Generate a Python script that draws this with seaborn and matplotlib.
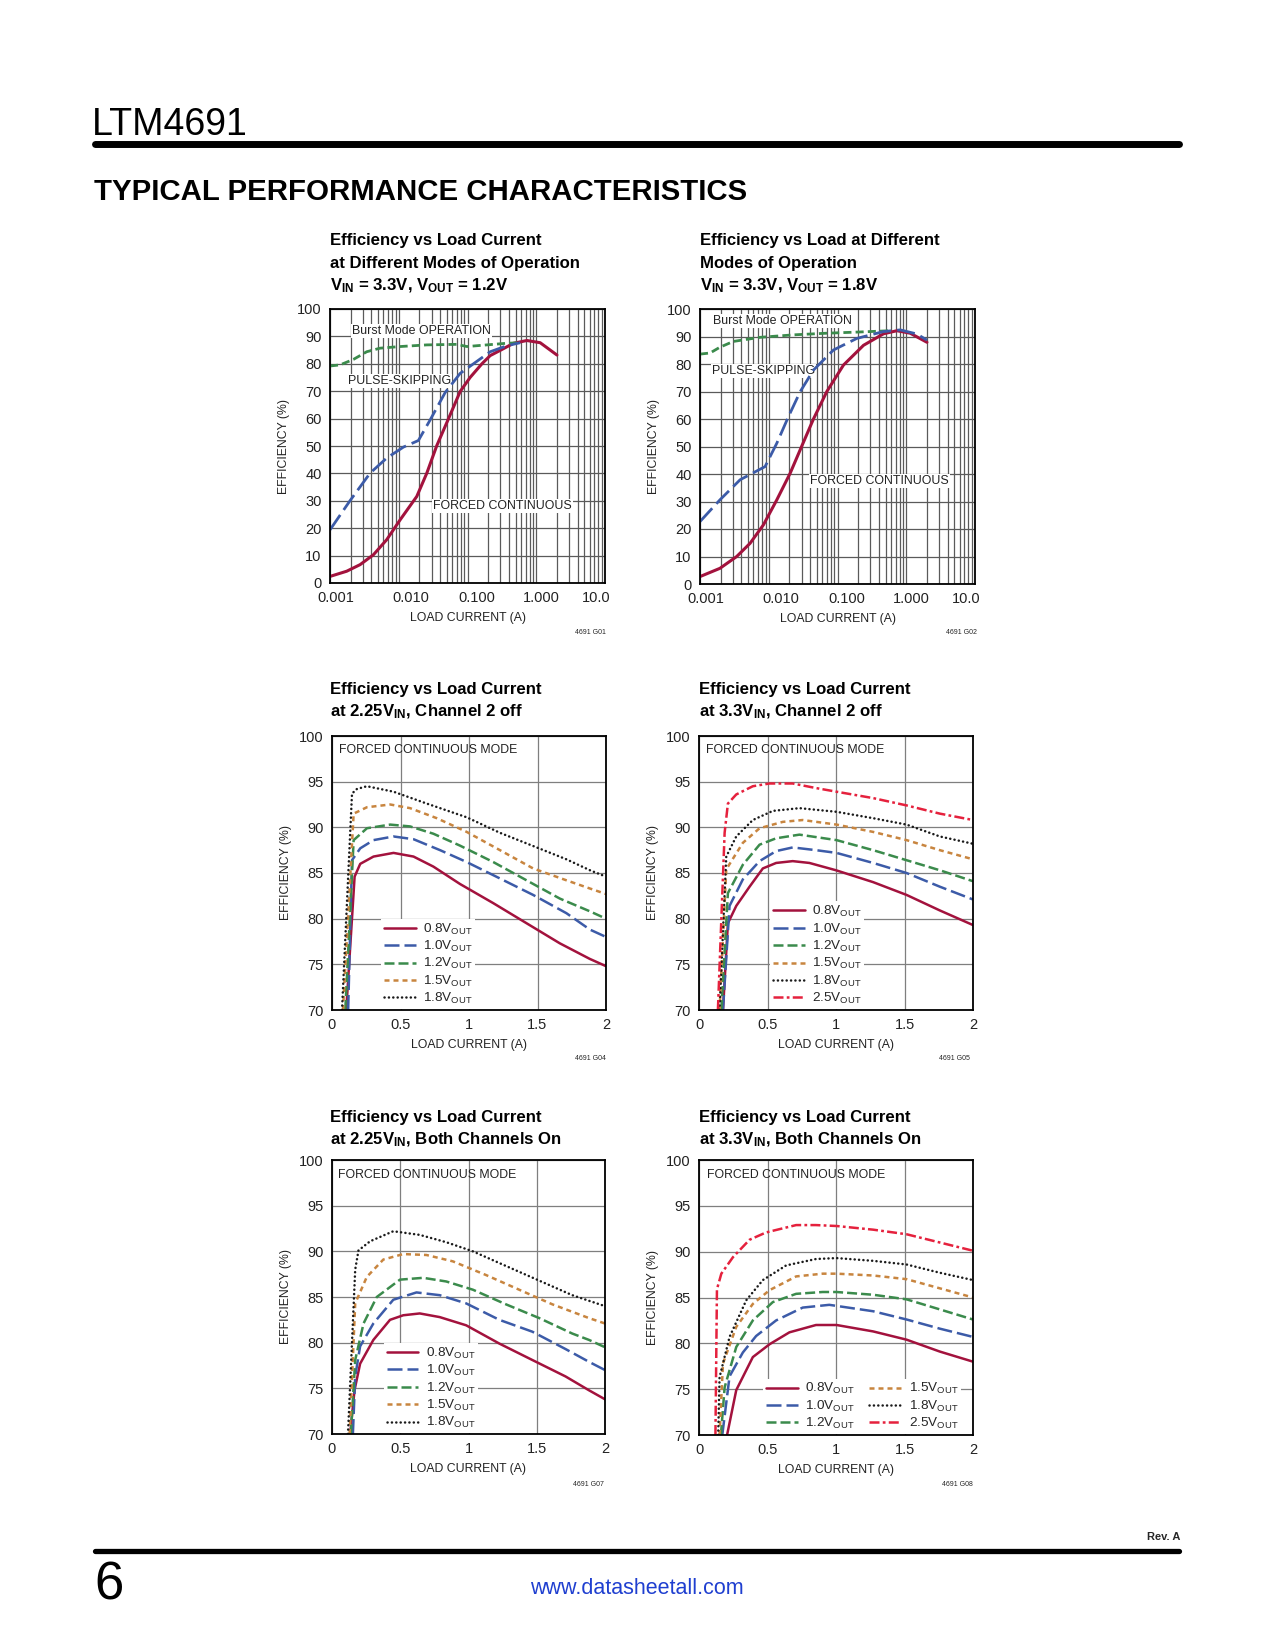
import matplotlib
matplotlib.use("Agg")
import matplotlib.pyplot as plt
import matplotlib.ticker as mticker
from matplotlib.lines import Line2D
from matplotlib.transforms import ScaledTranslation
import seaborn as sns

# G01: efficiency vs load, VIN = 3.3V, VOUT = 1.2V
g01_fc_load = [0.001, 0.00175, 0.00274, 0.00428, 0.00668, 0.0105, 0.0183, 0.0256, 0.0357,
               0.0528, 0.0782, 0.109, 0.162, 0.214, 0.299, 0.468, 0.731, 1.14, 2.0]
g01_fc_eff = [2.4, 4.3, 6.7, 10.3, 15.8, 23.1, 31.6, 40.1, 50.1,
              59.9, 69.9, 75.0, 80.0, 83.0, 84.9, 87.5, 88.5, 87.7, 83.2]
g01_ps_load = [0.001, 0.00195, 0.00383, 0.00668, 0.0117, 0.0193, 0.0286, 0.0473, 0.0782,
               0.122, 0.214, 0.374, 0.585]
g01_ps_eff = [19.4, 30.0, 40.1, 45.6, 49.6, 52.0, 59.5, 69.5, 76.5, 80.0, 84.4, 86.6, 87.7]
g01_bm_load = [0.001, 0.0014, 0.00219, 0.00342, 0.00534, 0.0105, 0.0256, 0.070, 0.098,
               0.191, 0.374, 0.585]
g01_bm_eff = [79.2, 79.6, 81.6, 84.4, 85.7, 86.3, 86.9, 87.1, 86.3, 86.9, 87.5, 87.7]

# G02: efficiency vs load, VIN = 3.3V, VOUT = 1.8V
g02_fc_load = [0.001, 0.00195, 0.00342, 0.00535, 0.00836, 0.0131, 0.0205, 0.0303, 0.0447,
               0.070, 0.122, 0.239, 0.468, 0.731, 1.14, 2.0]
g02_fc_eff = [2.7, 5.7, 10.0, 14.8, 21.5, 30.6, 40.3, 50.2, 60.0,
              70.0, 79.6, 86.8, 91.0, 92.1, 91.2, 87.9]
g02_ps_load = [0.001, 0.00195, 0.00383, 0.00885, 0.0131, 0.0193, 0.0286, 0.0447, 0.0874,
               0.191, 0.468, 0.82, 1.43, 2.0]
g02_ps_eff = [22.7, 30.6, 37.9, 42.7, 51.2, 60.8, 69.9, 77.8, 85.1, 89.3, 91.8, 92.4, 90.9, 88.7]
g02_bm_load = [0.001, 0.0014, 0.00195, 0.00305, 0.00748, 0.0229, 0.070, 0.191, 0.585]
g02_bm_eff = [83.6, 84.0, 86.1, 88.2, 89.7, 90.6, 91.2, 91.6, 92.1]

# G04: 2.25VIN, channel 2 off
g04_load = {
    "0.8": [0.104, 0.165, 0.206, 0.303, 0.449, 0.595, 0.740, 0.934, 1.177, 1.420, 1.663, 1.881, 2.0],
    "1.0": [0.118, 0.146, 0.206, 0.303, 0.449, 0.595, 0.789, 0.983, 1.226, 1.468, 1.711, 1.883, 2.0],
    "1.2": [0.097, 0.158, 0.255, 0.425, 0.570, 0.740, 0.934, 1.177, 1.420, 1.663, 1.883, 2.0],
    "1.5": [0.080, 0.158, 0.255, 0.425, 0.570, 0.765, 0.983, 1.226, 1.468, 1.711, 1.883, 2.0],
    "1.8": [0.073, 0.146, 0.182, 0.255, 0.449, 0.692, 0.983, 1.226, 1.494, 1.711, 1.883, 2.0],
}
g04_eff = {
    "0.8": [70, 84.6, 86.0, 86.8, 87.2, 86.8, 85.7, 83.8, 81.7, 79.5, 77.3, 75.6, 74.8],
    "1.0": [70, 86.4, 87.7, 88.6, 89.0, 88.7, 87.5, 86.2, 84.4, 82.6, 80.6, 78.8, 78.0],
    "1.2": [70, 88.6, 89.9, 90.3, 90.1, 89.3, 88.0, 86.2, 84.2, 82.2, 80.8, 80.0],
    "1.5": [70, 91.5, 92.2, 92.5, 92.1, 91.0, 89.5, 87.5, 85.5, 84.2, 83.3, 82.7],
    "1.8": [70, 93.7, 94.2, 94.5, 93.9, 92.6, 91.1, 89.4, 87.8, 86.5, 85.3, 84.6],
}

# G05: 3.3VIN, channel 2 off
g05_load = {
    "0.8": [0.175, 0.211, 0.272, 0.369, 0.466, 0.563, 0.684, 0.806, 1.0, 1.271, 1.515, 1.758, 2.0],
    "1.0": [0.175, 0.223, 0.320, 0.442, 0.563, 0.684, 0.854, 1.004, 1.271, 1.515, 1.758, 2.0],
    "1.2": [0.163, 0.211, 0.320, 0.442, 0.563, 0.733, 1.004, 1.271, 1.515, 1.758, 2.0],
    "1.5": [0.150, 0.199, 0.320, 0.442, 0.612, 0.757, 1.004, 1.271, 1.515, 1.758, 2.0],
    "1.8": [0.150, 0.199, 0.272, 0.393, 0.539, 0.733, 1.004, 1.271, 1.515, 1.758, 2.0],
    "2.5": [0.138, 0.187, 0.211, 0.272, 0.393, 0.515, 0.684, 0.854, 1.004, 1.271, 1.515, 1.758, 2.0],
}
g05_eff = {
    "0.8": [70, 79.5, 81.4, 83.5, 85.5, 86.1, 86.3, 86.1, 85.3, 84.0, 82.6, 80.9, 79.3],
    "1.0": [70, 81.4, 84.3, 86.3, 87.4, 87.8, 87.5, 87.2, 86.1, 85.0, 83.5, 82.1],
    "1.2": [70, 82.8, 85.9, 88.1, 88.8, 89.2, 88.6, 87.5, 86.4, 85.3, 84.1],
    "1.5": [70, 85.4, 88.3, 89.9, 90.6, 90.8, 90.3, 89.5, 88.6, 87.5, 86.5],
    "1.8": [70, 86.8, 89.0, 90.8, 91.8, 92.1, 91.7, 91.0, 90.3, 89.0, 88.2],
    "2.5": [70, 89.4, 92.6, 93.6, 94.5, 94.8, 94.8, 94.3, 93.9, 93.2, 92.4, 91.5, 90.8],
}

# G07: 2.25VIN, both channels on
g07_load = {
    "0.8": [0.133, 0.165, 0.206, 0.303, 0.425, 0.522, 0.643, 0.789, 0.983, 1.226, 1.468, 1.711, 1.881, 2.0],
    "1.0": [0.153, 0.170, 0.206, 0.303, 0.449, 0.619, 0.789, 0.983, 1.226, 1.468, 1.711, 1.883, 2.0],
    "1.2": [0.138, 0.170, 0.231, 0.328, 0.498, 0.668, 0.837, 1.032, 1.274, 1.517, 1.760, 1.883, 2.0],
    "1.5": [0.129, 0.170, 0.255, 0.376, 0.522, 0.692, 0.886, 1.129, 1.371, 1.614, 1.881, 2.0],
    "1.8": [0.117, 0.170, 0.194, 0.279, 0.449, 0.643, 0.837, 1.032, 1.274, 1.517, 1.760, 2.0],
}
g07_eff = {
    "0.8": [70, 74.8, 77.7, 80.3, 82.5, 83.0, 83.2, 82.8, 81.9, 79.9, 78.1, 76.3, 74.8, 73.8],
    "1.0": [70, 76.3, 79.6, 82.1, 84.7, 85.5, 85.2, 84.3, 82.5, 81.2, 79.3, 77.9, 77.0],
    "1.2": [70, 78.1, 82.1, 85.0, 86.9, 87.1, 86.7, 85.8, 84.2, 82.7, 81.0, 80.3, 79.5],
    "1.5": [70, 84.3, 87.2, 89.1, 89.7, 89.6, 88.9, 87.4, 85.8, 84.2, 82.7, 82.1],
    "1.8": [70, 88.0, 90.1, 91.1, 92.2, 91.8, 91.0, 90.0, 88.4, 86.8, 85.2, 84.0],
}

# G08: 3.3VIN, both channels on
g08_load = {
    "0.8": [0.205, 0.272, 0.393, 0.515, 0.660, 0.854, 1.004, 1.271, 1.515, 1.758, 2.0],
    "1.0": [0.17, 0.223, 0.320, 0.417, 0.563, 0.757, 0.951, 1.271, 1.515, 1.758, 2.0],
    "1.2": [0.16, 0.187, 0.272, 0.393, 0.539, 0.709, 0.903, 1.004, 1.271, 1.515, 1.758, 2.0],
    "1.5": [0.15, 0.175, 0.272, 0.393, 0.515, 0.709, 0.903, 1.004, 1.271, 1.515, 1.758, 2.0],
    "1.8": [0.14, 0.150, 0.223, 0.345, 0.466, 0.636, 0.854, 1.004, 1.271, 1.515, 1.758, 2.0],
    "2.5": [0.12, 0.131, 0.163, 0.248, 0.369, 0.490, 0.709, 0.854, 1.004, 1.271, 1.515, 1.758, 2.0],
}
g08_eff = {
    "0.8": [70, 74.9, 78.5, 79.9, 81.2, 82.0, 82.0, 81.3, 80.4, 79.1, 78.0],
    "1.0": [70, 76.4, 79.0, 80.8, 82.5, 83.9, 84.2, 83.5, 82.6, 81.6, 80.7],
    "1.2": [70, 75.2, 79.6, 82.5, 84.5, 85.4, 85.6, 85.6, 85.3, 84.8, 83.7, 82.6],
    "1.5": [70, 77.8, 81.8, 84.3, 85.8, 87.3, 87.6, 87.6, 87.4, 87.0, 86.0, 85.0],
    "1.8": [70, 76.3, 80.7, 84.7, 86.9, 88.5, 89.2, 89.3, 89.0, 88.6, 87.7, 86.9],
    "2.5": [70, 85.9, 87.6, 89.4, 91.3, 92.1, 92.9, 92.9, 92.8, 92.4, 91.9, 91.0, 90.1],
}

log_ticks = [0.001, 0.01, 0.1, 1, 10]
log_tick_labels = ["0.001", "0.010", "0.100", "1.000", "10.0"]
lin_ticks = [0, 0.5, 1, 1.5, 2]
lin_tick_labels = ["0", "0.5", "1", "1.5", "2"]

RED = "#a3123d"
BLUE = "#3c5ba8"
GREEN = "#3b8b4c"
ORANGE = "#c8853f"
BLACK = "#1a1a1a"
PINK = "#e5213d"

vout_styles = {
    "0.8": dict(color=RED, linestyle="-"),
    "1.0": dict(color=BLUE, linestyle=(0, (6, 2))),
    "1.2": dict(color=GREEN, linestyle=(0, (4, 1.6))),
    "1.5": dict(color=ORANGE, linestyle=(0, (2, 1.6))),
    "1.8": dict(color=BLACK, linestyle=(0, (0.05, 1.7)), dash_capstyle="round"),
    "2.5": dict(color=PINK, linestyle=(0, (4, 1.3, 1.1, 1.3))),
}

W, H = 1275, 1650

sns.set_theme(style="white")
plt.rcParams["font.family"] = ["Liberation Sans Narrow", "Liberation Sans", "DejaVu Sans"]
plt.rcParams["mathtext.default"] = "regular"

fig = plt.figure(figsize=(W / 100, H / 100), dpi=100)
fig.patch.set_facecolor("white")


def px_axes(l, t, r, b):
    return fig.add_axes([l / W, 1 - b / H, (r - l) / W, (b - t) / H])


def ptext(x, y, s, **kw):
    return fig.text(x / W, 1 - y / H, s, **kw)


def base_style(ax):
    ax.set_facecolor("white")
    ax.set_axisbelow(True)
    for sp in ax.spines.values():
        sp.set_visible(True)
        sp.set_color("black")
        sp.set_linewidth(1.3)
    ax.tick_params(length=0, labelsize=10.5, colors="#222222")
    ax.tick_params(axis="x", pad=6)
    ax.tick_params(axis="y", pad=6)
    ax.set_xlabel("LOAD CURRENT (A)", fontsize=8.8, color="#222222", labelpad=5)
    ax.set_ylabel("EFFICIENCY (%)", fontsize=8.8, color="#222222", labelpad=5)


def log_chart(ax):
    base_style(ax)
    ax.set_xscale("log")
    ax.set_xlim(0.001, 10)
    ax.set_ylim(0, 100)
    ax.set_xticks(log_ticks, log_tick_labels)
    ax.xaxis.set_minor_locator(mticker.LogLocator(base=10, subs=range(2, 10), numticks=20))
    ax.xaxis.set_minor_formatter(mticker.NullFormatter())
    ax.set_yticks(range(0, 101, 10))
    ax.grid(True, which="both", color="#5a5a5a", lw=0.9)
    ax.tick_params(which="minor", length=0)
    # the datasheet nudges its decade labels inward
    for lbl, dx in zip(ax.xaxis.get_majorticklabels(), [6, 12, 9, 5, -9]):
        lbl.set_transform(lbl.get_transform() + ScaledTranslation(dx / 100, 0, fig.dpi_scale_trans))


def lin_chart(ax):
    base_style(ax)
    ax.set_xlim(0, 2)
    ax.set_ylim(70, 100)
    ax.set_xticks(lin_ticks, lin_tick_labels)
    ax.set_yticks(range(70, 101, 5))
    ax.grid(True, color="#7f7f7f", lw=0.9)


def mode_curves(ax, fc, ps, bm):
    sns.lineplot(x=fc[0], y=fc[1], ax=ax, color=RED, lw=2.2, sort=False)
    sns.lineplot(x=bm[0], y=bm[1], ax=ax, color=GREEN, lw=2.0, sort=False,
                 linestyle=(0, (2.9, 1.5)))
    sns.lineplot(x=ps[0], y=ps[1], ax=ax, color=BLUE, lw=2.0, sort=False,
                 linestyle=(0, (6.5, 2.2)))


def vout_curves(ax, loads, effs):
    for key in loads:
        sns.lineplot(x=loads[key], y=effs[key], ax=ax, lw=1.8, sort=False,
                     label=key + r"$V_{OUT}$", **vout_styles[key])


def vout_legend(ax, anchor, ncol=1):
    ax.legend(loc="lower left", bbox_to_anchor=anchor, ncol=ncol, fontsize=9.7,
              frameon=True, fancybox=False, edgecolor="none", facecolor="white",
              framealpha=1, handlelength=2.35, handletextpad=0.55, labelspacing=0.17,
              borderpad=0.2, borderaxespad=0, columnspacing=1.1)


def mode_label(ax, x, y, s):
    ax.text(x / W, 1 - y / H, s, transform=fig.transFigure, fontsize=8.9,
            color="#222222", va="center", ha="left", zorder=1.5,
            bbox=dict(facecolor="white", edgecolor="none", pad=1.0))


TITLE = dict(fontsize=12.1, fontweight="bold", color="black", va="baseline")
NOTE = dict(fontsize=8.8, color="#222222", va="center")

# header / footer
ptext(92, 135, "LTM4691", fontsize=27, color="black", va="baseline")
fig.add_artist(Line2D([95 / W, 1179 / W], [1 - 143.5 / H] * 2, lw=5, color="black"))
ptext(94, 200, "TYPICAL PERFORMANCE CHARACTERISTICS", fontsize=21.2, fontweight="bold",
      color="black", va="baseline")
fig.add_artist(Line2D([95 / W, 1179 / W], [1 - 1551 / H] * 2, lw=3.8, color="black"))
ptext(1180, 1540, "Rev. A", fontsize=8, fontweight="bold", ha="right", va="baseline")
ptext(94, 1600, "6", fontsize=38, color="black", va="baseline")
ptext(637, 1588, "www.datasheetall.com", fontsize=15.5, color="#1f3fd0", ha="center",
      va="center", family=["Liberation Sans", "DejaVu Sans"])

# G01
ax1 = px_axes(330, 309, 605, 583)
log_chart(ax1)
mode_curves(ax1, (g01_fc_load, g01_fc_eff), (g01_ps_load, g01_ps_eff), (g01_bm_load, g01_bm_eff))
mode_label(ax1, 352, 331, "Burst Mode OPERATION")
mode_label(ax1, 348, 381, "PULSE-SKIPPING")
mode_label(ax1, 433, 506, "FORCED CONTINUOUS")
ptext(330, 245, "Efficiency vs Load Current", **TITLE)
ptext(330, 268, "at Different Modes of Operation", **TITLE)
ptext(330, 290, r"$V_{IN}$ = 3.3V, $V_{OUT}$ = 1.2V", **TITLE)
ptext(606, 633, "4691 G01", fontsize=5, ha="right", va="center")

# G02
ax2 = px_axes(700, 309, 975, 584)
log_chart(ax2)
mode_curves(ax2, (g02_fc_load, g02_fc_eff), (g02_ps_load, g02_ps_eff), (g02_bm_load, g02_bm_eff))
mode_label(ax2, 713, 321, "Burst Mode OPERATION")
mode_label(ax2, 712, 371, "PULSE-SKIPPING")
mode_label(ax2, 810, 481, "FORCED CONTINUOUS")
ptext(700, 245, "Efficiency vs Load at Different", **TITLE)
ptext(700, 268, "Modes of Operation", **TITLE)
ptext(700, 290, r"$V_{IN}$ = 3.3V, $V_{OUT}$ = 1.8V", **TITLE)
ptext(977, 633, "4691 G02", fontsize=5, ha="right", va="center")

# G04
ax3 = px_axes(332, 736, 606, 1010)
lin_chart(ax3)
vout_curves(ax3, g04_load, g04_eff)
vout_legend(ax3, (0.18, 0.004))
ptext(339, 750, "FORCED CONTINUOUS MODE", **NOTE)
ptext(330, 694, "Efficiency vs Load Current", **TITLE)
ptext(330, 716, r"at 2.25$V_{IN}$, Channel 2 off", **TITLE)
ptext(606, 1059, "4691 G04", fontsize=5, ha="right", va="center")

# G05
ax4 = px_axes(699, 736, 973, 1010)
lin_chart(ax4)
vout_curves(ax4, g05_load, g05_eff)
vout_legend(ax4, (0.26, 0.004))
ptext(706, 750, "FORCED CONTINUOUS MODE", **NOTE)
ptext(699, 694, "Efficiency vs Load Current", **TITLE)
ptext(699, 716, r"at 3.3$V_{IN}$, Channel 2 off", **TITLE)
ptext(970, 1059, "4691 G05", fontsize=5, ha="right", va="center")

# G07
ax5 = px_axes(332, 1160, 605, 1434)
lin_chart(ax5)
vout_curves(ax5, g07_load, g07_eff)
vout_legend(ax5, (0.19, 0.003))
ptext(338, 1175, "FORCED CONTINUOUS MODE", **NOTE)
ptext(330, 1122, "Efficiency vs Load Current", **TITLE)
ptext(330, 1144, r"at 2.25$V_{IN}$, Both Channels On", **TITLE)
ptext(604, 1484, "4691 G07", fontsize=5, ha="right", va="center")

# G08
ax6 = px_axes(699, 1160, 973, 1435)
lin_chart(ax6)
vout_curves(ax6, g08_load, g08_eff)
vout_legend(ax6, (0.235, 0.004), ncol=2)
ptext(707, 1175, "FORCED CONTINUOUS MODE", **NOTE)
ptext(699, 1122, "Efficiency vs Load Current", **TITLE)
ptext(699, 1144, r"at 3.3$V_{IN}$, Both Channels On", **TITLE)
ptext(973, 1484, "4691 G08", fontsize=5, ha="right", va="center")

fig.savefig("out.png", dpi=100, facecolor="white")
